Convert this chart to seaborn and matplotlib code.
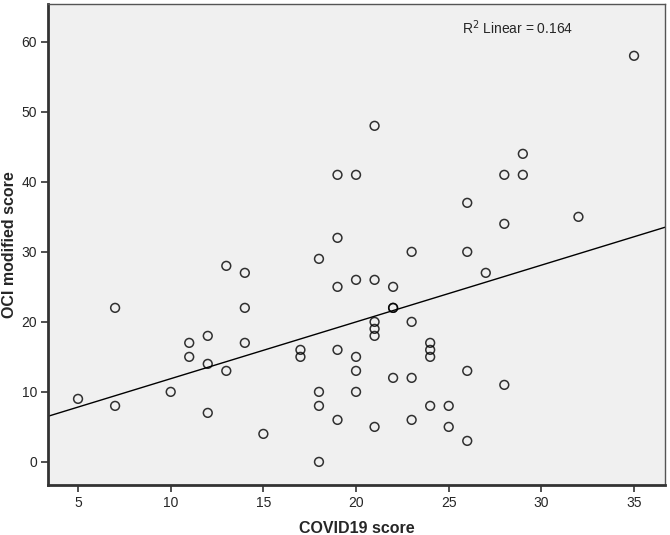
import numpy as np
import pandas as pd
import matplotlib
matplotlib.use("Agg")
import matplotlib.pyplot as plt
import seaborn as sns

covid19_score = [5, 7, 7, 10, 11, 11, 12, 12, 12, 13, 13, 14, 14, 14, 15, 17, 17,
                 18, 18, 18, 18, 19, 19, 19, 19, 19, 20, 20, 20, 20, 20,
                 21, 21, 21, 21, 21, 21, 22, 22, 22, 22, 23, 23, 23, 23,
                 24, 24, 24, 24, 25, 25, 26, 26, 26, 26, 27, 28, 28, 28,
                 29, 29, 32, 35]
oci_score = [9, 22, 8, 10, 17, 15, 18, 14, 7, 28, 13, 27, 22, 17, 4, 16, 15,
             29, 10, 8, 0, 41, 32, 25, 16, 6, 41, 26, 15, 13, 10,
             48, 26, 20, 19, 18, 5, 25, 22, 22, 12, 30, 20, 12, 6,
             17, 16, 15, 8, 8, 5, 37, 30, 13, 3, 27, 41, 34, 11,
             44, 41, 35, 58]
x_ticks = [5, 10, 15, 20, 25, 30, 35]
y_ticks = [0, 10, 20, 30, 40, 50, 60]

df = pd.DataFrame({"COVID19 score": covid19_score, "OCI modified score": oci_score})
r2 = np.corrcoef(covid19_score, oci_score)[0, 1] ** 2

sns.set_style("ticks")
plt.rcParams['font.family'] = ['Liberation Sans', 'DejaVu Sans']

fig = plt.figure(figsize=(6.7, 5.35), dpi=100)
ax = fig.add_axes([48/670, 50/535, 617/670, 481/535])
ax.set_facecolor("#f0f0f0")
ax.set_xlim(3.38, 36.67)
ax.set_ylim(-3.3, 65.4)

sns.regplot(data=df, x="COVID19 score", y="OCI modified score", ax=ax, ci=None,
            truncate=False,
            scatter_kws=dict(s=40, facecolors="none", edgecolors="black", linewidths=1.1),
            line_kws=dict(color="black", lw=1.0))

ax.set_xticks(x_ticks)
ax.set_yticks(y_ticks)
ax.tick_params(axis="both", direction="out", length=5, width=1.2, color="#333333",
               labelsize=10, pad=3)
for s in ["left", "bottom"]:
    ax.spines[s].set_linewidth(2)
    ax.spines[s].set_color("#333333")
for s in ["top", "right"]:
    ax.spines[s].set_visible(True)
    ax.spines[s].set_linewidth(1)
    ax.spines[s].set_color("#555555")

ax.set_xlabel("COVID19 score", fontsize=11.5, fontweight="bold", labelpad=8)
ax.set_ylabel("OCI modified score", fontsize=11.5, fontweight="bold", labelpad=3)
ax.text(25.7, 62, f"R$^{{2}}$ Linear = {r2:.3f}", fontsize=10, va="center", ha="left")

fig.savefig("out.png", dpi=100)
